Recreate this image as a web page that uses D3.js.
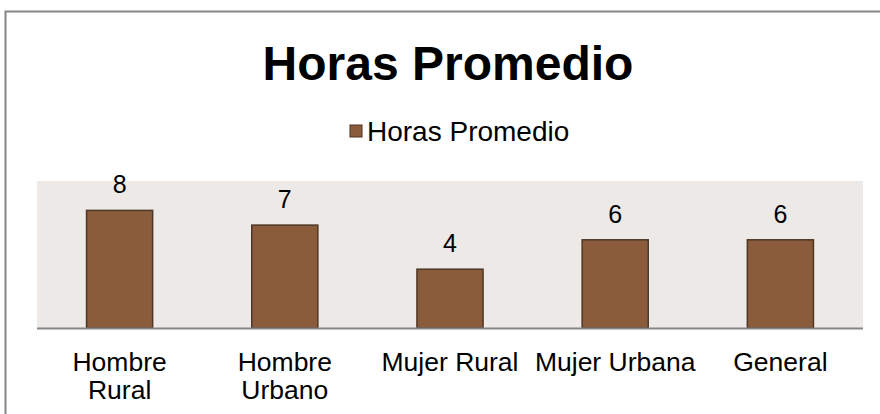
<!DOCTYPE html>
<html lang="es">

<head>
    <meta charset="UTF-8">
    <script src="https://d3js.org/d3.v7.min.js"></script>
    <title>Horas Promedio</title>

    <style>
        body {
            margin: 0;
            background: #fff;
            font-family: Arial, "Liberation Sans", sans-serif;
        }

        .axis path,
        .axis line {
            display: none;
        }
    </style>
</head>

<body>
    <script>
        // data
        const categories = ['Hombre Rural', 'Hombre Urbano', 'Mujer Rural', 'Mujer Urbana', 'General'];
        const tickLines = [['Hombre', 'Rural'], ['Hombre', 'Urbano'], ['Mujer Rural'], ['Mujer Urbana'], ['General']];
        const horas = [8, 7, 4, 6, 6];
        const seriesName = 'Horas Promedio';

        const W = 880, H = 414;
        const margin = { top: 181, left: 37, right: 17, bottom: 86 };
        const width = W - margin.left - margin.right;
        const height = H - margin.top - margin.bottom;

        const svg = d3.select('body').append('svg')
            .attr('width', W)
            .attr('height', H);

        // outer chart frame (cropped on right and bottom)
        svg.append('path')
            .attr('d', `M5.5,${H + 5} V11.5 H${W + 5}`)
            .attr('fill', 'none')
            .attr('stroke', '#868686')
            .attr('stroke-width', 2);

        // title
        svg.append('text')
            .attr('x', 448)
            .attr('y', 80)
            .attr('text-anchor', 'middle')
            .style('font-size', '48px')
            .style('font-weight', 'bold')
            .text('Horas Promedio');

        // legend
        const legend = svg.append('g').attr('transform', 'translate(350,125)');
        legend.append('rect')
            .attr('width', 12).attr('height', 12)
            .attr('fill', '#8B5C3C')
            .attr('stroke', '#4E3524');
        legend.append('text')
            .attr('x', 17)
            .attr('y', 16)
            .style('font-size', '28px')
            .text(seriesName);

        const g = svg.append('g')
            .attr('transform', `translate(${margin.left},${margin.top})`);

        const x = d3.scaleBand().domain(categories).range([0, width]).paddingInner(0.6).paddingOuter(0.3);
        const y = d3.scaleLinear().domain([0, 10]).range([height, 0]);

        // plot area background
        g.append('rect')
            .attr('width', width)
            .attr('height', height)
            .attr('fill', '#ECE9E6');

        // bars
        g.selectAll('rect.bar').data(horas).join('rect')
            .attr('class', 'bar')
            .attr('x', (d, i) => x(categories[i]))
            .attr('y', (d) => y(d))
            .attr('width', x.bandwidth())
            .attr('height', (d) => height - y(d))
            .attr('fill', '#8B5C3C')
            .attr('stroke', '#4E3524')
            .attr('stroke-width', 1.5);

        // value labels
        g.selectAll('text.val').data(horas).join('text')
            .attr('class', 'val')
            .attr('x', (d, i) => x(categories[i]) + x.bandwidth() / 2)
            .attr('y', (d) => y(d) - 17)
            .attr('text-anchor', 'middle')
            .style('font-size', '25px')
            .text((d) => d);

        // category axis baseline
        g.append('line')
            .attr('x1', 0).attr('x2', width)
            .attr('y1', height + 0.5).attr('y2', height + 0.5)
            .attr('stroke', '#868686')
            .attr('stroke-width', 2);

        // category labels
        const xaxis = g.append('g')
            .attr('class', 'axis')
            .attr('transform', `translate(0,${height})`)
            .call(d3.axisBottom(x).tickSize(0).tickFormat(''));

        xaxis.selectAll('.tick').each(function (d, i) {
            const t = d3.select(this).append('text')
                .attr('fill', '#000')
                .attr('text-anchor', 'middle')
                .style('font-size', '26.5px')
                .style('font-family', 'Arial, "Liberation Sans", sans-serif');
            tickLines[i].forEach((line, j) => {
                t.append('tspan')
                    .attr('x', 0)
                    .attr('y', 43 + j * 28)
                    .text(line);
            });
        });
    </script>
</body>

</html>
